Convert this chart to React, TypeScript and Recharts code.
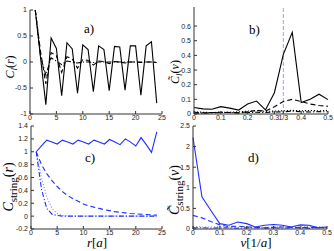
import { LineChart, Line, XAxis, YAxis, ReferenceLine } from 'recharts';

// r = 1..24 (lattice distance), nu = k/30 (frequency)
const rVals = [1, 2, 3, 4, 5, 6, 7, 8, 9, 10, 11, 12, 13, 14, 15, 16, 17, 18, 19, 20, 21, 22, 23, 24];
const nuVals = [0, 0.0333, 0.0667, 0.1, 0.1333, 0.1667, 0.2, 0.2333, 0.2667, 0.3, 0.3333, 0.3667, 0.4, 0.4333, 0.4667, 0.5];

// panel a) C_l(r)
const aSolid = [1.0, 0.08, -0.82, 0.46, 0.26, -0.65, 0.37, 0.25, -0.6, 0.33, 0.24, -0.57, 0.31, 0.24, -0.55, 0.3, 0.29, -0.54, 0.31, 0.31, -0.64, 0.31, 0.39, -0.79];
const aDashed = [1.0, 0.2, -0.42, 0.18, 0.12, -0.2, 0.1, 0.06, -0.12, 0.05, 0.03, -0.06, 0.02, 0.01, -0.03, 0.01, 0.0, -0.02, 0.0, 0.0, -0.01, 0.0, 0.0, -0.01];
const aDashDot = [1.0, 0.1, -0.25, 0.08, 0.02, -0.05, 0.02, 0.0, -0.02, 0.0, 0.0, -0.01, 0.0, 0.0, 0.0, 0.0, 0.0, 0.0, 0.0, 0.0, 0.0, 0.0, 0.0, 0.0];

// panel b) C~_l(nu)
const bSolid = [0.044, 0.035, 0.032, 0.05, 0.04, 0.027, 0.068, 0.088, 0.028, 0.145, 0.407, 0.557, 0.078, 0.1, 0.135, 0.098];
const bDashed = [0.012, 0.008, 0.01, 0.012, 0.01, 0.008, 0.015, 0.025, 0.02, 0.05, 0.085, 0.1, 0.085, 0.068, 0.058, 0.053];
const bDashDot = [0.005, 0.006, 0.008, 0.01, 0.01, 0.008, 0.01, 0.012, 0.01, 0.014, 0.015, 0.02, 0.015, 0.014, 0.016, 0.015];
const bDotted = [0.015, 0.012, 0.01, 0.012, 0.012, 0.015, 0.02, 0.022, 0.018, 0.02, 0.022, 0.025, 0.022, 0.024, 0.022, 0.025];

// panel c) C_string(r)
const cSolid = [1.0, 1.09, 1.18, 1.15, 1.12, 1.18, 1.15, 1.12, 1.18, 1.15, 1.12, 1.18, 1.15, 1.12, 1.19, 1.15, 1.11, 1.2, 1.15, 1.09, 1.22, 1.11, 0.99, 1.31];
const cDashed = [1.0, 0.8, 0.66, 0.55, 0.46, 0.38, 0.32, 0.27, 0.23, 0.19, 0.16, 0.14, 0.12, 0.1, 0.085, 0.07, 0.06, 0.05, 0.04, 0.035, 0.03, 0.025, 0.02, 0.015];
const cDotted = [1.0, 0.6, 0.3, 0.12, 0.04, 0.01, 0.005, 0.0, 0.0, 0.0, 0.0, 0.0, 0.0, 0.0, 0.0, 0.0, 0.0, 0.0, 0.0, 0.0, 0.0, 0.0, 0.0, 0.0];
const cDashDot = [1.0, 0.42, 0.12, 0.03, 0.01, 0.0, 0.0, 0.0, 0.0, 0.0, 0.0, 0.0, 0.0, 0.0, 0.0, 0.0, 0.0, 0.0, 0.0, 0.0, 0.0, 0.0, 0.0, 0.0];

// panel d) C~_string(nu)
const dSolid = [2.22, 0.78, 0.45, 0.13, 0.09, 0.17, 0.13, 0.05, 0.09, 0.11, 0.09, 0.05, 0.1, 0.09, 0.03, 0.05];
const dDashed = [0.33, 0.27, 0.18, 0.1, 0.06, 0.07, 0.05, 0.04, 0.03, 0.04, 0.05, 0.04, 0.03, 0.04, 0.04, 0.03];
const dDotted = [0.06, 0.05, 0.05, 0.06, 0.05, 0.04, 0.06, 0.05, 0.04, 0.05, 0.06, 0.05, 0.05, 0.06, 0.05, 0.04];
const dDashDot = [0.03, 0.03, 0.02, 0.03, 0.03, 0.02, 0.03, 0.03, 0.02, 0.03, 0.02, 0.03, 0.03, 0.02, 0.03, 0.03];

const rTicks = [0, 5, 10, 15, 20, 25];
const nuTicks = [0, 0.1, 0.2, 0.3, 1 / 3, 0.4, 0.5];
const nuTicksPlain = [0, 0.1, 0.2, 0.3, 0.4, 0.5];
const aYTicks = [-1, -0.5, 0, 0.5, 1];
const bYTicks = [0, 0.1, 0.2, 0.3, 0.4, 0.5, 0.6];
const cYTicks = [-0.2, 0, 0.2, 0.4, 0.6, 0.8, 1, 1.2, 1.4];
const dYTicks = [0, 0.5, 1, 1.5, 2, 2.5];

const BLACK = '#000';
const BLUE = '#2030ff';
const LIGHT = '#8a96ff';
const DASH = '5 3';
const DASHDOT = '5 2 1.2 2';
const DOT = '1.2 1.8';

const tickStyle = { fontSize: 7, fill: '#222', fontFamily: 'Liberation Sans, Arial, sans-serif' };
const serif = 'Liberation Serif, DejaVu Serif, serif';

type Series = { key: string; values: number[]; color: string; dash?: string };

interface PanelProps {
  left: number;
  top: number;
  width: number;
  height: number;
  margin: { top: number; right: number; left: number; bottom: number };
  yWidth: number;
  xHeight: number;
  xVals: number[];
  series: Series[];
  xDomain: [number, number];
  xTicks: number[];
  yDomain: [number, number];
  yTicks: number[];
  refX?: number;
}

const fmtX = (v: number) => (Math.abs(v - 1 / 3) < 1e-6 ? '1/3' : String(v));

function Panel(p: PanelProps) {
  const data = p.xVals.map((x, i) => {
    const row: any = { x };
    p.series.forEach((s) => (row[s.key] = s.values[i]));
    return row;
  });
  return (
    <div style={{ position: 'absolute', left: p.left, top: p.top }}>
      <LineChart width={p.width} height={p.height} data={data} margin={p.margin}>
        <XAxis dataKey="x" type="number" domain={p.xDomain} ticks={p.xTicks} tickFormatter={fmtX} interval={0}
          tick={tickStyle} tickSize={-3} tickMargin={4} height={p.xHeight} stroke="#333" />
        <XAxis xAxisId="top" orientation="top" type="number" domain={p.xDomain} ticks={p.xTicks}
          tick={false} tickSize={-3} height={0} stroke="#333" />
        <YAxis type="number" domain={p.yDomain} ticks={p.yTicks} interval={0} allowDataOverflow
          tick={tickStyle} tickSize={-3} tickMargin={6} width={p.yWidth} stroke="#333" />
        <YAxis yAxisId="right" orientation="right" type="number" domain={p.yDomain} ticks={p.yTicks}
          tick={false} tickSize={-3} width={0} stroke="#333" />
        {p.refX !== undefined && <ReferenceLine x={p.refX} stroke={LIGHT} strokeDasharray="4 2" strokeWidth={0.9} />}
        {p.series.map((s) => (
          <Line key={s.key} type="linear" dataKey={s.key} stroke={s.color} strokeWidth={1.1}
            strokeDasharray={s.dash} dot={false} isAnimationActive={false} />
        ))}
      </LineChart>
    </div>
  );
}

function Labels() {
  return (
    <svg width={334} height={251} style={{ position: 'absolute', left: 0, top: 0, pointerEvents: 'none' }}>
      <g fontFamily={serif} fill="#000">
        <text x={84} y={33} fontSize={13}>a)</text>
        <text x={249} y={34} fontSize={13}>b)</text>
        <text x={85} y={162} fontSize={13}>c)</text>
        <text x={248} y={162} fontSize={13}>d)</text>

        <text transform="translate(14,67) rotate(-90)" textAnchor="middle" fontSize={12}>
          <tspan fontStyle="italic">C</tspan>
          <tspan fontStyle="italic" fontSize={9} dy={3}>l</tspan>
          <tspan dy={-3}>(</tspan><tspan fontStyle="italic">r</tspan><tspan>)</tspan>
        </text>
        <text transform="translate(179,72) rotate(-90)" textAnchor="middle" fontSize={12}>
          <tspan fontStyle="italic">{'C\u0303'}</tspan>
          <tspan fontStyle="italic" fontSize={9} dy={3}>l</tspan>
          <tspan dy={-3}>(</tspan><tspan fontStyle="italic">ν</tspan><tspan>)</tspan>
        </text>
        <text transform="translate(13,187) rotate(-90)" textAnchor="middle" fontSize={14}>
          <tspan fontStyle="italic">C</tspan>
          <tspan fontSize={11} dy={4}>string</tspan>
          <tspan dy={-4}>(</tspan><tspan fontStyle="italic">r</tspan><tspan>)</tspan>
        </text>
        <text transform="translate(179,190) rotate(-90)" textAnchor="middle" fontSize={14}>
          <tspan fontStyle="italic">{'C\u0303'}</tspan>
          <tspan fontSize={11} dy={4}>string</tspan>
          <tspan dy={-4}>(</tspan><tspan fontStyle="italic">ν</tspan><tspan>)</tspan>
        </text>

        <text x={97} y={247} textAnchor="middle" fontSize={13}>
          <tspan fontStyle="italic">r</tspan><tspan>[</tspan><tspan fontStyle="italic">a</tspan><tspan>]</tspan>
        </text>
        <text x={256} y={247} textAnchor="middle" fontSize={13}>
          <tspan fontStyle="italic">ν</tspan><tspan>[1/</tspan><tspan fontStyle="italic">a</tspan><tspan>]</tspan>
        </text>
      </g>
    </svg>
  );
}

export default function App() {
  return (
    <div style={{ position: 'absolute', left: 0, top: 0, width: 334, height: 251, background: '#fff' }}>
      <Panel left={0} top={0} width={167} height={125} margin={{ top: 10, right: 5, left: 0, bottom: 0 }}
        yWidth={30} xHeight={11} xVals={rVals} xDomain={[0, 25]} xTicks={rTicks} yDomain={[-1, 1]} yTicks={aYTicks}
        series={[
          { key: 'dashdot', values: aDashDot, color: BLACK, dash: DASHDOT },
          { key: 'dashed', values: aDashed, color: BLACK, dash: DASH },
          { key: 'solid', values: aSolid, color: BLACK },
        ]} />
      <Panel left={167} top={0} width={167} height={125} margin={{ top: 7, right: 6, left: 0, bottom: 0 }}
        yWidth={27} xHeight={11} xVals={nuVals} xDomain={[0, 0.5]} xTicks={nuTicks} yDomain={[0, 0.73]} yTicks={bYTicks}
        refX={1 / 3}
        series={[
          { key: 'dotted', values: bDotted, color: BLACK, dash: DOT },
          { key: 'dashdot', values: bDashDot, color: BLACK, dash: DASHDOT },
          { key: 'dashed', values: bDashed, color: BLACK, dash: DASH },
          { key: 'solid', values: bSolid, color: BLACK },
        ]} />
      <Panel left={0} top={120} width={167} height={131} margin={{ top: 6, right: 5, left: 0, bottom: 0 }}
        yWidth={31} xHeight={22} xVals={rVals} xDomain={[0, 25]} xTicks={rTicks} yDomain={[-0.2, 1.4]} yTicks={cYTicks}
        series={[
          { key: 'dotted', values: cDotted, color: LIGHT, dash: DOT },
          { key: 'dashdot', values: cDashDot, color: BLUE, dash: DASHDOT },
          { key: 'dashed', values: cDashed, color: BLUE, dash: DASH },
          { key: 'solid', values: cSolid, color: BLUE },
        ]} />
      <Panel left={167} top={120} width={167} height={131} margin={{ top: 6, right: 7, left: 0, bottom: 0 }}
        yWidth={26} xHeight={22} xVals={nuVals} xDomain={[0, 0.5]} xTicks={nuTicksPlain} yDomain={[0, 2.5]} yTicks={dYTicks}
        series={[
          { key: 'dotted', values: dDotted, color: LIGHT, dash: DOT },
          { key: 'dashdot', values: dDashDot, color: BLUE, dash: DASHDOT },
          { key: 'dashed', values: dDashed, color: BLUE, dash: DASH },
          { key: 'solid', values: dSolid, color: BLUE },
        ]} />
      <Labels />
    </div>
  );
}
